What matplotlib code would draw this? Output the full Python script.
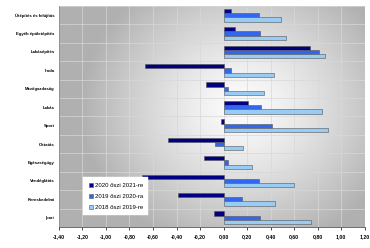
import numpy as np
import matplotlib.pyplot as plt
from matplotlib.ticker import FuncFormatter

categories = ["Útépítés és felújítás", "Egyéb épületépítés", "Lakásépítés", "Iroda",
              "Mezőgazdaság", "Lakás", "Sport", "Oktatás", "Egészségügy",
              "Vendéglátás", "Kereskedelmi", "Ipari"]
s2020 = [0.06, 0.10, 0.73, -0.67, -0.15, 0.21, -0.02, -0.47, -0.165, -0.69, -0.385, -0.08]
s2019 = [0.30, 0.31, 0.81, 0.06, 0.04, 0.32, 0.41, -0.07, 0.04, 0.30, 0.155, 0.31]
s2018 = [0.49, 0.53, 0.865, 0.425, 0.34, 0.84, 0.89, 0.165, 0.24, 0.595, 0.435, 0.74]
labels = ["2020 őszi 2021-re", "2019 őszi 2020-ra", "2018 őszi 2019-re"]
colors = ["#000080", "#3366ee", "#99ccf5"]

plt.rcParams["font.family"] = ["Liberation Sans", "DejaVu Sans"]

fig = plt.figure(figsize=(3.70, 2.48), dpi=100)
ax = fig.add_axes([0.159, 0.085, 0.827, 0.891])

xmin, xmax = -1.4, 1.2
n = len(categories)

# radial gray background
gx = np.linspace(xmin, xmax, 300)
gy = np.linspace(-0.5, n - 0.5, 200)
X, Y = np.meshgrid(gx, gy)
r = np.sqrt(((X - 0.15) / 1.3) ** 2 + ((Y - 5.0) / 7.5) ** 2)
val = np.clip(0.99 - 0.28 * r ** 1.3, 0.69, 0.99)
ax.imshow(val, extent=[xmin, xmax, n - 0.5, -0.5], cmap="gray", vmin=0, vmax=1,
          aspect="auto", zorder=0, interpolation="bilinear")

y = np.arange(n)
h = 0.23
for k, (vals, lab, c) in enumerate(zip([s2020, s2019, s2018], labels, colors)):
    ax.barh(y + (k - 1) * h, vals, height=h, color=c, edgecolor="#555555",
            linewidth=0.4, label=lab, zorder=3)

ax.set_xlim(xmin, xmax)
ax.set_ylim(n - 0.5, -0.5)
ax.set_xticks(np.arange(-1.4, 1.21, 0.2))
ax.xaxis.set_major_formatter(FuncFormatter(lambda v, p: f"{v:.2f}".replace(".", ",").replace("-0,00", "0,00")))
ax.set_yticks(y)
ax.set_yticklabels(categories)
ax.set_yticks(np.arange(-0.5, n, 1), minor=True)
ax.tick_params(axis="y", which="major", length=0, pad=3, labelsize=3.1)
ax.tick_params(axis="y", which="minor", length=0)
ax.tick_params(axis="x", length=2, width=0.5, pad=3, labelsize=3.7)
for t in ax.get_xticklabels() + ax.get_yticklabels():
    t.set_fontweight("bold")

ax.grid(True, which="major", axis="x", color="#d8d8d8", lw=0.5, zorder=1)
ax.grid(True, which="minor", axis="y", color="#d8d8d8", lw=0.5, zorder=1)
for s in ["top", "right"]:
    ax.spines[s].set_visible(False)
ax.spines["left"].set_color("#888888")
ax.spines["bottom"].set_color("#555555")
ax.spines["left"].set_linewidth(0.6)
ax.spines["bottom"].set_linewidth(0.6)

leg = ax.legend(loc="lower left", bbox_to_anchor=(0.07, 0.04), fontsize=4.3,
                frameon=True, fancybox=False, edgecolor="white", framealpha=1,
                handlelength=0.7, handleheight=0.7, borderpad=0.9, labelspacing=0.95,
                handletextpad=0.3)
leg.get_frame().set_linewidth(0.3)

fig.savefig("out.png", dpi=100)
